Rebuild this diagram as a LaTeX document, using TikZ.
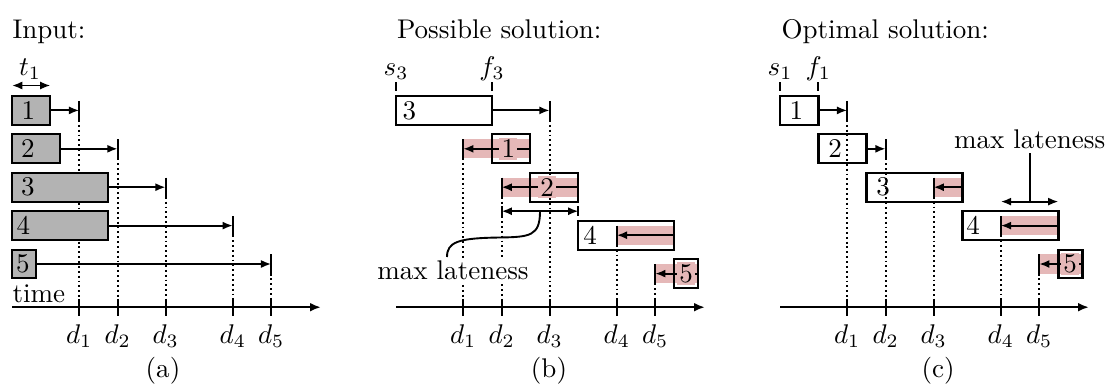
\documentclass[tikz,border=0pt]{standalone}
\usetikzlibrary{arrows.meta}
\definecolor{latered}{RGB}{229,184,184}
\definecolor{jobgray}{RGB}{179,179,179}
\begin{document}
\begin{tikzpicture}[x=0.37pt,y=-0.37pt,
  jobbox/.style={draw,line width=0.8pt},
  band/.style={fill=latered,draw=none},
  arr/.style={line width=0.7pt,-{Latex[length=3.8pt,width=3pt]}},
  darr/.style={line width=0.7pt,{Latex[length=3.8pt,width=3pt]}-{Latex[length=3.8pt,width=3pt]}},
  tickline/.style={line width=0.7pt},
  dl/.style={line width=0.7pt,dash pattern=on 0.7pt off 1.1pt},
  axisline/.style={line width=0.8pt,-{Latex[length=4pt,width=3.2pt]}},
  lab/.style={inner sep=0pt},
  blab/.style={inner sep=0.8pt,fill=latered},
  txt/.style={inner sep=0pt}]
\useasboundingbox (0,0) rectangle (1107,390);

% ---------------- panel (a) ----------------
\node[txt,anchor=base west] (ta) at (12,38) {Input:};
\node[txt,anchor=base] (t1) at (30,75) {$t_1$};
\coordinate (t1l) at (12,85.5);
\coordinate (t1r) at (50.4,85.5);
\draw[darr] (t1l) -- (t1r);
\foreach \k/\t/\d/\lx in {1/38.4/67.2/16.3, 2/48/105.6/16, 3/96/153.6/16, 4/96/220.8/11.3, 5/24/259.2/11}{
  \pgfmathsetmacro\ytp{96+38.4*(\k-1)}
  \pgfmathsetmacro\ymid{\ytp+14.4}
  \draw[jobbox,fill=jobgray] (12,\ytp) rectangle ++(\t,28.8);
  \node[lab] (a\k) at ({12+\lx},\ymid) {\k};
  \draw[arr] ({12+\t},\ymid) -- ({12+\d},\ymid);
  \draw[tickline] ({12+\d},{\ymid-9.6}) -- ({12+\d},{\ymid+9.6});
  \draw[dl] ({12+\d},{\ymid+9.6}) -- ({12+\d},307.2);
}
\node[txt,anchor=base west] (timea) at (12,302) {time};

% ---------------- panel (b) ----------------
\node[txt,anchor=base west] (tb) at (396.5,38) {Possible solution:};
\node[txt,anchor=base] (s3) at (396,75) {$s_3$};
\node[txt,anchor=base] (f3) at (492,75) {$f_3$};
\draw[tickline] (396,82) -- (396,91);
\draw[tickline] (492,82) -- (492,91);
% bands
\foreach \s/\f/\d/\y in {96/134.4/67.2/148.8, 134.4/182.4/105.6/187.2, 182.4/278.4/220.8/235.2, 278.4/302.4/259.2/273.6}{
  \fill[latered] ({396+\d},{\y-9.6}) rectangle ({396+\f},{\y+9.6});
}
% boxes
\draw[jobbox] (396,96) rectangle ++(96,28.8);
\draw[jobbox] (492,134.4) rectangle ++(38.4,28.8);
\draw[jobbox] (530.4,172.8) rectangle ++(48,28.8);
\draw[jobbox] (578.4,220.8) rectangle ++(96,28.8);
\draw[jobbox] (674.4,259.2) rectangle ++(24,28.8);
% arrows, ticks, dotted lines
\foreach \s/\d/\y in {492/549.6/110.4, 530.4/463.2/148.8, 578.4/501.6/187.2, 674.4/616.8/235.2, 698.4/655.2/273.6}{
  \draw[arr] (\s,\y) -- (\d,\y);
  \draw[tickline] (\d,{\y-9.6}) -- (\d,{\y+9.6});
  \draw[dl] (\d,{\y+9.6}) -- (\d,307.2);
}
\node[txt,anchor=west,inner sep=0pt] (b3) at (402,110.4) {3};
\node[blab] (b1) at (508.3,148.8) {1};
\node[blab] (b2) at (547,187.2) {2};
\node[lab] (b4) at (590,235.2) {4};
\node[blab] (b5) at (686.2,273.6) {5};
% max lateness (b)
\coordinate (mlbl) at (501.6,211.2);
\coordinate (mlbr) at (578.4,211.2);
\coordinate (mlbm) at (540,211.2);
\draw[darr] (mlbl) -- (mlbr);
\draw[tickline] (501.6,206.4) -- (501.6,216);
\draw[tickline] (578.4,206.4) -- (578.4,216);
\node[txt,anchor=base,fill=white,inner sep=1pt] (mlb) at (453,279.5) {max lateness};
\draw[line width=0.7pt] (mlbm) .. controls (540,236) and (530,237) .. (500,237.5)
  .. controls (458,238) and (447,242) .. (447,257);

% ---------------- panel (c) ----------------
\node[txt,anchor=base west] (tc) at (781,38) {Optimal solution:};
\node[txt,anchor=base] (s1) at (780,75) {$s_1$};
\node[txt,anchor=base] (f1) at (818.4,75) {$f_1$};
\draw[tickline] (780,82) -- (780,91);
\draw[tickline] (818.4,82) -- (818.4,91);
\foreach \f/\d/\y in {182.4/153.6/187.2, 278.4/220.8/225.6, 302.4/259.2/264}{
  \fill[latered] ({780+\d},{\y-9.6}) rectangle ({780+\f},{\y+9.6});
}
\draw[jobbox] (780,96) rectangle ++(38.4,28.8);
\draw[jobbox] (818.4,134.4) rectangle ++(48,28.8);
\draw[jobbox] (866.4,172.8) rectangle ++(96,28.8);
\draw[jobbox] (962.4,211.2) rectangle ++(96,28.8);
\draw[jobbox] (1058.4,249.6) rectangle ++(24,28.8);
\foreach \s/\d/\y in {818.4/847.2/110.4, 866.4/885.6/148.8, 962.4/933.6/187.2, 1058.4/1000.8/225.6, 1082.4/1039.2/264}{
  \draw[arr] (\s,\y) -- (\d,\y);
  \draw[tickline] (\d,{\y-9.6}) -- (\d,{\y+9.6});
  \draw[dl] (\d,{\y+9.6}) -- (\d,307.2);
}
\node[lab] (c1) at (796.3,110.4) {1};
\node[lab] (c2) at (835,148.8) {2};
\node[lab] (c3) at (883,187.2) {3};
\node[lab] (c4) at (973,225.6) {4};
\node[blab] (c5) at (1070,264) {5};
\coordinate (mlcl) at (1000.8,201.6);
\coordinate (mlcr) at (1058.4,201.6);
\coordinate (mlcm) at (1029.6,201.6);
\draw[darr] (mlcl) -- (mlcr);
\node[txt,anchor=base] (mlc) at (1029.6,148) {max lateness};
\draw[line width=0.7pt] (mlcm) -- (1029.6,153);

% ---------------- axes ----------------
\foreach \ox/\lab/\lx in {12/a/163, 396/b/549, 780/c/938}{
  \draw[axisline] (\ox,307.2) -- ({\ox+309},307.2);
  \foreach \d [count=\i] in {67.2,105.6,153.6,220.8,259.2}{
    \draw[tickline] ({\ox+\d},298.8) -- ({\ox+\d},315.6);
    \node[txt,anchor=base] at ({\ox+\d},343) {$d_{\i}$};
  }
  \node[txt,anchor=base] at (\lx,377) {(\lab)};
}
\end{tikzpicture}
\end{document}
